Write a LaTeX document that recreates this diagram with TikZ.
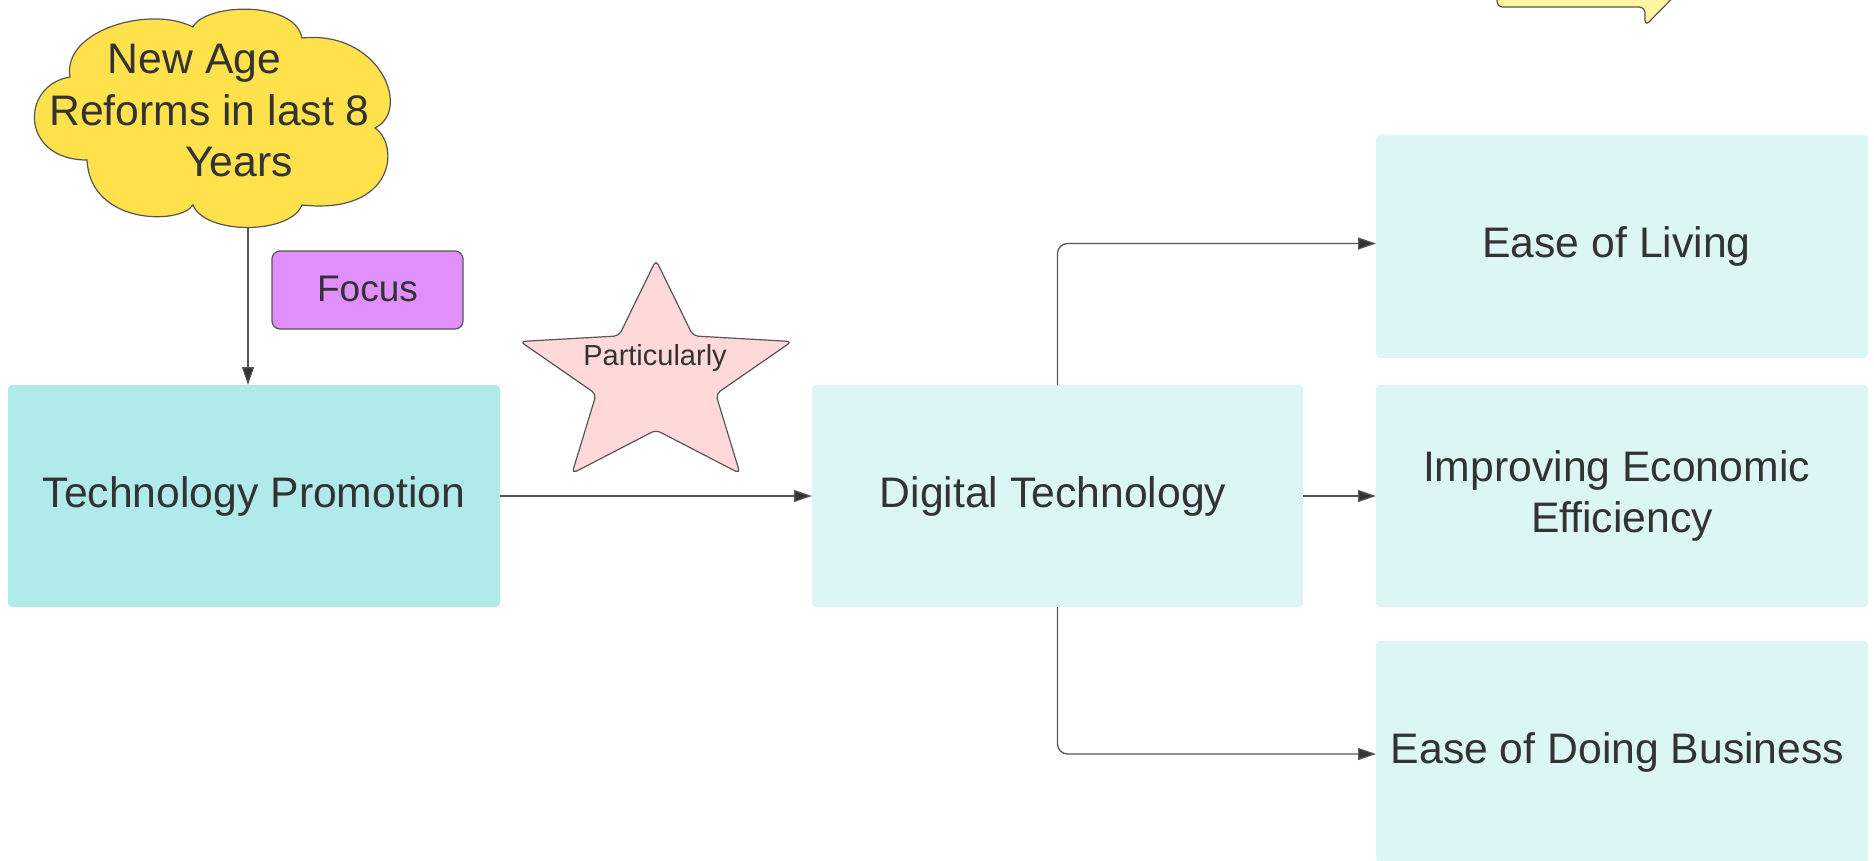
\documentclass[tikz,border=0pt]{standalone}
\usepackage{fontspec}
\setmainfont{Liberation Sans}
\usetikzlibrary{arrows.meta}
\definecolor{txt}{HTML}{333333}
\definecolor{edge}{HTML}{555555}
\definecolor{cloudfill}{HTML}{FFE14B}
\definecolor{focusfill}{HTML}{E08FFC}
\definecolor{starfill}{HTML}{FFD9DA}
\definecolor{tealA}{HTML}{B0EAEA}
\definecolor{tealB}{HTML}{DCF5F5}
\definecolor{callfill}{HTML}{FFF5A0}
\begin{document}
\begin{tikzpicture}[x=1pt,y=-1pt,
  bigtext/.style={font=\fontsize{42.7}{51}\selectfont, text=txt},
  box/.style={bigtext, rounded corners=4pt, inner sep=0pt, outer sep=0pt, minimum height=222pt, align=center},
  outline/.style={draw=edge, line width=1.2pt},
  arr/.style={draw=edge, line width=1.3pt, -{Triangle[length=18pt,width=12pt,fill=txt]}}
]
\useasboundingbox (0,0) rectangle (1874,860);
\clip (0,0) rectangle (1874,860);

% callout (top right, partly off page)
\draw[outline, fill=callfill, rounded corners=6pt] (1497,-30) -- (1497,7) -- (1645,7) -- (1645,26) -- (1700,-30);

% cloud
\draw[outline, fill=cloudfill]
  (70,77) .. controls (62,30) and (150,5) .. (193,27)
  .. controls (205,3) and (295,0) .. (302,38)
  .. controls (380,30) and (412,110) .. (375,128)
  .. controls (400,145) and (395,215) .. (302,205)
  .. controls (290,235) and (205,235) .. (193,205)
  .. controls (180,225) and (90,225) .. (87,160)
  .. controls (20,160) and (20,85) .. (70,77) -- cycle;
\node[bigtext, anchor=base] (ct1) at (194.5,73) {New Age};
\node[bigtext, anchor=base] (ct2) at (209.5,125) {Reforms in last 8};
\node[bigtext, anchor=base] (ct3) at (239,176) {Years};
\coordinate (cb) at (248,227);

% focus label
\node[outline, fill=focusfill, rounded corners=8pt, minimum width=191pt, minimum height=78pt, inner sep=0pt,
      font=\fontsize{37}{44}\selectfont, text=txt] (focus) at (367.5,290) {\raisebox{2pt}{Focus}};

% star
\draw[outline, fill=starfill, rounded corners=5pt]
  (656,260) -- (693,335.9) -- (791.8,341.5) -- (715.8,394.1) -- (740,473.5)
  -- (656,430) -- (572,473.5) -- (596.2,394.1) -- (520.2,341.5) -- (619,335.9) -- cycle;
\node[font=\fontsize{29}{34}\selectfont, text=txt] (part) at (655,358) {Particularly};

% boxes
\node[box, fill=tealA, minimum width=492pt] (tp) at (254,496) {Technology Promotion};
\node[box, fill=tealB, minimum width=491pt] (dt) at (1057.5,496) {Digital Technology\hspace*{9pt}};
\node[box, fill=tealB, minimum width=492pt, minimum height=223pt] (el) at (1622,246.5) {Ease of Living\hspace*{11pt}};
\node[box, fill=tealB, minimum width=492pt] (ie) at (1622,496) {Improving Economic\hspace*{11pt}\\Efficiency};
\node[box, fill=tealB, minimum width=492pt] (edb) at (1622,752) {Ease of Doing Business\hspace*{9pt}};

% connectors
\draw[arr] (cb) -- (cb |- tp.north);
\draw[arr] (tp.east) -- (dt.west);
\draw[arr, rounded corners=10pt] (dt.north) |- ([yshift=3pt]el.west);
\draw[arr] (dt.east) -- (ie.west);
\draw[arr, rounded corners=10pt] (dt.south) |- ([yshift=-2pt]edb.west);
\end{tikzpicture}
\end{document}
